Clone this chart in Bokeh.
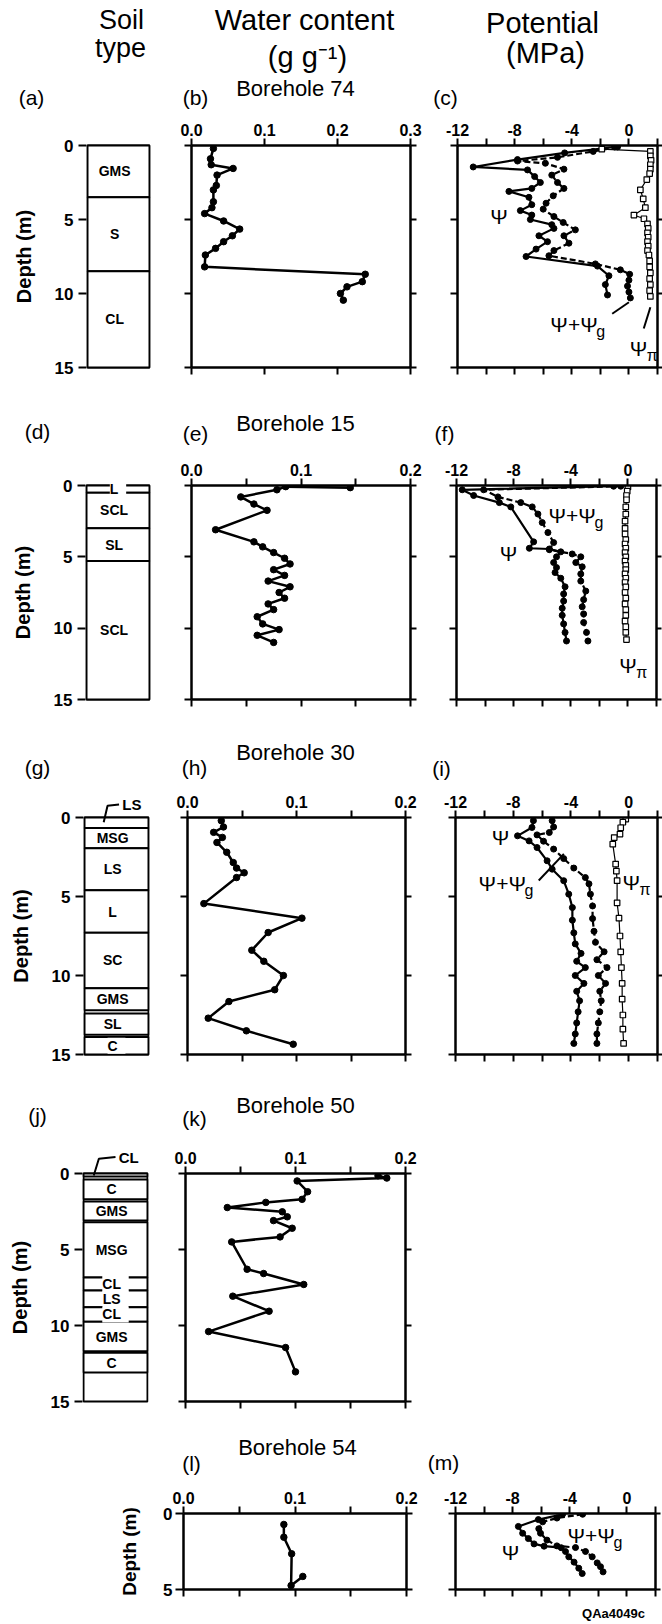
from bokeh.plotting import figure
from bokeh.models import (Range1d, LinearAxis, FixedTicker, Label, LabelSet,
                          ColumnDataSource, NumeralTickFormatter, CustomLabelingPolicy)
from bokeh.layouts import row, column
from bokeh.embed import file_html
from bokeh.resources import INLINE
from bokeh.core.properties import value

FONT = "Liberation Sans"

# ====================== DATA ======================
# ---- Borehole 74 ----
soil74_top = [0.0, 3.5, 8.5]
soil74_bot = [3.5, 8.5, 15.0]
soil74_name = ["GMS", "S", "CL"]
wc74_depth = [0.2, 0.9, 1.3, 1.55, 2.0, 2.7, 3.0, 3.8, 4.2, 4.6, 5.1, 5.65, 6.1, 6.5, 6.95, 7.4, 8.2, 8.7, 9.2, 9.55, 10.0, 10.45]
wc74_value = [0.030, 0.026, 0.027, 0.057, 0.035, 0.034, 0.030, 0.030, 0.028, 0.018, 0.044, 0.066, 0.056, 0.044, 0.033, 0.019, 0.018, 0.238, 0.234, 0.213, 0.204, 0.208]
psi74_depth = [0.1, 0.5, 0.95, 1.45, 1.65, 2.1, 2.5, 2.9, 3.1, 3.5, 4.0, 4.4, 4.7, 5.0, 5.35, 5.6, 6.1, 6.5, 7.0, 7.5, 8.15, 8.8, 9.4, 10.1]
psi74_value = [-1.0, -4.5, -7.8, -10.9, -7.1, -6.6, -6.2, -6.8, -8.4, -7.0, -6.8, -7.6, -6.8, -6.9, -5.4, -5.25, -6.3, -5.7, -6.5, -7.2, -2.2, -1.4, -1.65, -1.5]
psig74_depth = [0.1, 0.4, 0.8, 1.05, 1.2, 1.6, 2.0, 2.5, 2.9, 3.4, 3.9, 4.3, 4.8, 5.2, 5.7, 6.1, 6.6, 7.1, 7.45, 8.0, 8.4, 8.7, 9.1, 9.5, 9.9, 10.3]
psig74_value = [-0.8, -2.5, -5.0, -7.8, -5.85, -4.55, -5.4, -5.0, -4.55, -5.3, -5.8, -6.0, -5.25, -4.6, -3.75, -4.55, -4.2, -5.25, -5.6, -2.35, -0.6, 0.05, 0.0, -0.1, 0.0, 0.1]
psipi74_depth = [0.25, 0.4, 0.7, 1.0, 1.3, 1.6, 1.9, 2.3, 3.0, 3.6, 4.2, 4.7, 4.95, 5.3, 5.6, 5.9, 6.2, 6.5, 6.8, 7.1, 7.4, 7.8, 8.2, 8.6, 9.0, 9.4, 9.8, 10.2]
psipi74_value = [-1.9, 1.5, 1.5, 1.55, 1.5, 1.5, 1.45, 1.25, 0.8, 1.0, 1.15, 0.35, 1.05, 1.3, 1.35, 1.3, 1.35, 1.3, 1.35, 1.3, 1.4, 1.45, 1.45, 1.5, 1.45, 1.5, 1.45, 1.5]

# ---- Borehole 15 ----
soil15_top = [0.0, 0.5, 3.0, 5.3]
soil15_bot = [0.5, 3.0, 5.3, 15.0]
soil15_name = ["L", "SCL", "SL", "SCL"]
wc15_depth = [0.15, 0.08, 0.3, 0.8, 1.3, 1.74, 3.1, 3.95, 4.3, 4.7, 5.1, 5.5, 5.9, 6.3, 6.7, 7.1, 7.5, 7.9, 8.3, 8.7, 9.2, 9.7, 10.1, 10.5, 11.0]
wc15_value = [0.145, 0.086, 0.078, 0.045, 0.057, 0.069, 0.022, 0.057, 0.065, 0.075, 0.085, 0.090, 0.075, 0.085, 0.070, 0.090, 0.080, 0.085, 0.070, 0.075, 0.060, 0.065, 0.080, 0.060, 0.075]
psi15_depth = [0.05, 0.3, 0.7, 1.2, 1.5, 3.95, 4.4, 4.45, 4.65, 5.0, 5.4, 5.75, 6.1, 6.5, 7.1, 7.6, 8.1, 8.6, 9.1, 9.7, 10.3, 10.9]
psi15_value = [-1.0, -11.6, -10.8, -9.0, -8.2, -6.6, -6.9, -5.5, -4.7, -5.0, -5.2, -5.0, -5.1, -4.7, -4.4, -4.5, -4.5, -4.6, -4.6, -4.5, -4.4, -4.3]
psig15_depth = [0.05, 0.3, 0.8, 1.2, 1.5, 2.0, 2.6, 3.3, 4.0, 4.5, 4.8, 5.0, 5.4, 5.7, 6.2, 6.7, 7.4, 8.0, 8.5, 9.0, 9.6, 10.3, 10.9]
psig15_value = [-0.5, -10.1, -9.1, -7.5, -6.7, -6.3, -6.0, -5.6, -5.2, -5.5, -3.9, -3.3, -3.65, -3.2, -3.3, -3.3, -2.95, -3.1, -3.2, -3.1, -3.1, -2.9, -2.8]
psipi15_depth = [0.1, 0.4, 0.7, 1.0, 1.5, 2.0, 2.5, 3.0, 3.4, 3.8, 4.1, 4.4, 4.7, 5.0, 5.3, 5.6, 5.9, 6.2, 6.5, 6.8, 7.1, 7.5, 7.9, 8.3, 8.7, 9.1, 9.5, 9.9, 10.3, 10.8]
psipi15_value = [0.0, -0.05, -0.1, -0.1, -0.15, -0.15, -0.2, -0.2, -0.2, -0.15, -0.2, -0.15, -0.2, -0.15, -0.2, -0.15, -0.15, -0.2, -0.15, -0.2, -0.15, -0.2, -0.15, -0.2, -0.15, -0.15, -0.2, -0.15, -0.15, -0.1]

# ---- Borehole 30 ----
soil30_top = [0.0, 0.67, 1.94, 4.6, 7.3, 10.8, 12.4, 13.9]
soil30_bot = [0.67, 1.94, 4.6, 7.3, 10.8, 12.2, 13.75, 15.0]
soil30_name = ["LS", "MSG", "LS", "L", "SC", "GMS", "SL", "C"]
wc30_depth = [0.2, 0.6, 0.94, 1.26, 1.58, 2.2, 2.85, 3.2, 3.5, 3.8, 5.45, 6.37, 7.28, 8.4, 9.1, 10.0, 10.9, 11.65, 12.7, 13.5, 14.35]
wc30_value = [0.031, 0.033, 0.024, 0.032, 0.027, 0.036, 0.042, 0.045, 0.052, 0.045, 0.015, 0.105, 0.074, 0.059, 0.070, 0.088, 0.080, 0.038, 0.019, 0.054, 0.097]
psi30_depth = [0.2, 0.63, 1.16, 1.48, 1.9, 2.74, 3.27, 4.0, 4.85, 5.7, 6.5, 7.3, 8.0, 8.6, 9.1, 9.5, 10.0, 10.5, 11.0, 11.6, 12.3, 13.0, 13.7, 14.3]
psi30_value = [-6.6, -6.7, -7.7, -6.9, -6.35, -5.65, -5.3, -4.5, -4.15, -3.9, -3.9, -3.8, -3.7, -3.3, -3.6, -3.0, -3.7, -3.1, -3.6, -3.4, -3.5, -3.6, -3.7, -3.8]
psig30_depth = [0.2, 0.6, 0.95, 1.1, 1.5, 2.0, 2.6, 3.2, 3.8, 4.2, 4.85, 5.6, 6.4, 7.2, 7.9, 8.5, 9.0, 9.5, 10.0, 10.5, 11.0, 11.6, 12.3, 13.0, 13.7, 14.3]
psig30_value = [-5.3, -5.2, -5.5, -6.35, -5.9, -5.2, -4.5, -3.8, -3.0, -2.75, -2.65, -2.5, -2.5, -2.4, -2.3, -1.7, -2.2, -1.5, -2.1, -1.6, -2.0, -1.9, -2.0, -2.1, -2.2, -2.2]
psipi30_depth = [0.1, 0.3, 0.65, 1.05, 1.27, 1.69, 2.95, 3.4, 4.0, 5.4, 6.37, 7.5, 8.5, 9.5, 10.5, 11.5, 12.5, 13.4, 14.3]
psipi30_value = [-0.2, -0.4, -0.55, -0.6, -1.0, -1.1, -0.9, -0.85, -0.8, -0.8, -0.67, -0.6, -0.55, -0.5, -0.45, -0.45, -0.4, -0.4, -0.35]

# ---- Borehole 50 ----
soil50_top = [0.0, 0.4, 1.85, 3.2, 6.85, 7.7, 8.8, 9.75, 11.8]
soil50_bot = [0.2, 1.7, 3.1, 6.85, 7.7, 8.8, 9.75, 11.7, 13.1]
soil50_name = ["CL", "C", "GMS", "MSG", "CL", "LS", "CL", "GMS", "C"]
wc50_depth = [0.15, 0.3, 0.49, 1.2, 1.7, 1.9, 2.24, 2.52, 2.85, 3.1, 3.6, 4.17, 4.5, 6.3, 6.58, 7.3, 8.07, 9.06, 10.4, 11.45, 13.05]
wc50_value = [0.175, 0.183, 0.1015, 0.111, 0.106, 0.073, 0.038, 0.088, 0.0925, 0.080, 0.097, 0.086, 0.042, 0.056, 0.071, 0.1075, 0.043, 0.076, 0.021, 0.091, 0.100]

# ---- Borehole 54 ----
wc54_depth = [0.72, 1.56, 2.65, 4.74, 4.14]
wc54_value = [0.090, 0.090, 0.097, 0.0965, 0.107]
psi54_depth = [0.05, 0.4, 0.85, 1.3, 1.65, 2.0, 2.15, 2.25, 2.5, 2.85, 3.2, 3.6, 3.95]
psi54_value = [-4.5, -6.2, -7.6, -7.3, -6.9, -6.5, -5.8, -4.6, -4.3, -4.07, -3.7, -3.37, -3.13]
psig54_depth = [0.05, 0.3, 0.55, 1.0, 1.3, 1.75, 2.13, 2.24, 2.5, 2.85, 3.25, 3.5, 3.84]
psig54_value = [-3.1, -4.9, -5.9, -6.17, -6.05, -5.6, -4.9, -3.6, -2.9, -2.43, -2.08, -1.85, -1.67]

# axis ticks
wc_major_03 = [0.0, 0.1, 0.2, 0.3]
wc_major = [0.0, 0.1, 0.2]
wc_minor = [0.05, 0.15]
pot_major = [-12, -8, -4, 0]
pot_minor = [-10, -6, -2, 2]
depth_ticks = [0, 5, 10, 15]
depth_ticks_5 = [0, 5]

# ====================== HELPERS ======================
HIDE = "for (const i of Array.from(indices)) { indices.unset(i) }"
TICK_PX = 16


def new_panel(left, top, w, h, fl, fr, ft, fb, xr, yr):
    p = figure(width=w, height=h, x_range=Range1d(*xr), y_range=Range1d(*yr),
               x_axis_location=None, y_axis_location=None,
               output_backend="svg", toolbar_location=None, frame_align=False,
               min_border_left=int(round(fl - left)), min_border_right=int(round(left + w - fr)),
               min_border_top=int(round(ft - top)), min_border_bottom=int(round(top + h - fb)))
    p.outline_line_color = None
    p.grid.visible = False
    p.background_fill_color = "white"
    p.border_fill_color = "white"
    return dict(p=p, fl=fl, fr=fr, ft=ft, fb=fb, xr=xr, yr=yr)


def text_panel(top, h, w=662):
    return new_panel(0, top, w, h, 0, w, top, top + h, (0.0, float(w)), (float(h), 0.0))


def add_axis(P, side, ticks, minor=(), labels=False, fmt="0.0", tick_out=7, size=TICK_PX,
             axis_label=None, label_standoff=5):
    ax = LinearAxis(ticker=FixedTicker(ticks=list(ticks), minor_ticks=list(minor)))
    ax.axis_line_width = 2.5
    ax.axis_line_color = "black"
    ax.major_tick_line_width = 2
    ax.minor_tick_line_width = 2
    ax.major_tick_out = tick_out
    ax.major_tick_in = 0
    ax.minor_tick_out = tick_out
    ax.minor_tick_in = 0
    if labels:
        ax.formatter = NumeralTickFormatter(format=fmt)
        ax.major_label_text_font = FONT
        ax.major_label_text_font_style = "bold"
        ax.major_label_text_font_size = f"{size}px"
        ax.major_label_text_color = "black"
        ax.major_label_standoff = 3
    else:
        ax.major_label_text_font_size = "0px"
        ax.major_label_standoff = 0
        ax.major_label_policy = CustomLabelingPolicy(code=HIDE)
    if axis_label:
        ax.axis_label = axis_label
        ax.axis_label_text_font = FONT
        ax.axis_label_text_font_style = "bold"
        ax.axis_label_text_font_size = "19px"
        ax.axis_label_text_color = "black"
        ax.axis_label_standoff = label_standoff
    P["p"].add_layout(ax, side)
    return ax


def to_data(P, px, py):
    x0, x1 = P["xr"]
    y0, y1 = P["yr"]
    x = x0 + (px - P["fl"]) / (P["fr"] - P["fl"]) * (x1 - x0)
    y = y0 + (P["fb"] - py) / (P["fb"] - P["ft"]) * (y1 - y0)
    return x, y


def lab(P, x, y, text, size, style="normal", align="center", baseline="middle",
        angle=0.0, xo=0, yo=0):
    P["p"].add_layout(Label(x=x, y=y, text=text, text_font=FONT,
                            text_font_size=f"{size}px", text_font_style=style,
                            text_align=align, text_baseline=baseline, angle=angle,
                            x_offset=xo, y_offset=yo, text_color="black"))


def plab(P, px, py, text, size, style="normal", align="center", baseline="middle", angle=0.0):
    x, y = to_data(P, px, py)
    lab(P, x, y, text, size, style, align, baseline, angle)


def psi_label(P, x, y, main, sub, size=20, sub_dx=16):
    lab(P, x, y, main, size, align="left")
    lab(P, x, y, sub, int(size * 0.8), align="left", xo=sub_dx, yo=-7)


SOIL_M = 26  # px of frame margin above depth 0 and below depth 15


def soil_panel(top, h, bx0, bx1, y0, y15, tops, bots, names, lead=None):
    ppm = (y15 - y0) / 15.0
    bw = float(bx1 - bx0)
    fl, fr = bx0 - 1, bx1 + 1
    ft, fb = y0 - SOIL_M, y15 + SOIL_M
    xr = (-1.0 / bw, 1.0 + 1.0 / bw)
    yr = (15.0 + SOIL_M / ppm, -SOIL_M / ppm)
    P = new_panel(0, top, 170, h, fl, fr, ft, fb, xr, yr)
    p = P["p"]
    ax = LinearAxis(ticker=FixedTicker(ticks=depth_ticks))
    ax.axis_line_color = None
    ax.major_tick_out = 8
    ax.major_tick_in = 0
    ax.major_tick_line_width = 2
    ax.minor_tick_line_color = None
    ax.major_label_text_font = FONT
    ax.major_label_text_font_style = "bold"
    ax.major_label_text_font_size = "17px"
    ax.major_label_text_color = "black"
    ax.major_label_standoff = 5
    ax.axis_label = "Depth (m)"
    ax.axis_label_text_font = FONT
    ax.axis_label_text_font_style = "bold"
    ax.axis_label_text_font_size = "20px"
    ax.axis_label_text_color = "black"
    ax.axis_label_standoff = 17
    p.add_layout(ax, "left")
    p.quad(left=[0], right=[1], top=[0], bottom=[15], fill_color="white",
           line_color="black", line_width=2)
    n = len(tops)
    p.quad(left=[0] * n, right=[1] * n, top=tops, bottom=bots, fill_color="white",
           line_color="black", line_width=2)
    xs, ys, ts = [], [], []
    for i in range(n):
        if lead is not None and i == lead[0]:
            continue
        xs.append(0.5)
        ys.append((tops[i] + bots[i]) / 2.0)
        ts.append(" " + names[i] + " ")
    src = ColumnDataSource(dict(x=xs, y=ys, t=ts))
    p.add_layout(LabelSet(x="x", y="y", text="t", source=src, text_align="center",
                          text_baseline="middle", text_font=value(FONT),
                          text_font_style="bold", text_font_size="14px",
                          background_fill_color="white", text_color="black"))
    if lead is not None:
        i, lx, ly = lead
        p.line(x=lx, y=ly, line_color="black", line_width=2)
        lab(P, lx[-1] + 0.05, ly[-1], names[i], 15, style="bold", align="left")
    return P


def wc_panel(left, top, w, h, fl, fr, ft, fb, xmax, dmax, depth, val,
             major, minor, yticks, left_labels=False):
    P = new_panel(left, top, w, h, fl, fr, ft, fb, (0.0, xmax), (dmax, 0.0))
    add_axis(P, "above", major, minor, labels=True, fmt="0.0")
    add_axis(P, "below", major, minor)
    if left_labels:
        add_axis(P, "left", yticks, (), labels=True, fmt="0", tick_out=8, size=17,
                 axis_label="Depth (m)", label_standoff=20)
    else:
        add_axis(P, "left", yticks, (), tick_out=7)
    add_axis(P, "right", yticks, (), tick_out=6)
    p = P["p"]
    p.line(x=val, y=depth, line_color="black", line_width=2.5)
    p.scatter(x=val, y=depth, size=6.5, color="black")
    return P


def pot_panel(top, h, fl, fr, ft, fb, dmax, yticks, series):
    P = new_panel(425, top, 237, h, fl, fr, ft, fb, (-12.0, 2.0), (dmax, 0.0))
    add_axis(P, "above", pot_major, pot_minor, labels=True, fmt="0")
    add_axis(P, "below", pot_major, pot_minor)
    add_axis(P, "left", yticks, (), tick_out=7)
    add_axis(P, "right", yticks, (), tick_out=5)
    p = P["p"]
    for kind, d, v in series:
        if kind == "psi":
            p.line(x=v, y=d, line_color="black", line_width=2.2)
            p.scatter(x=v, y=d, size=6, color="black")
        elif kind == "psig":
            p.line(x=v, y=d, line_color="black", line_width=2.2, line_dash="6 3")
            p.scatter(x=v, y=d, size=6, color="black")
        else:
            p.line(x=v, y=d, line_color="black", line_width=1.2)
            p.scatter(x=v, y=d, marker="square", size=5.5, fill_color="white",
                      line_color="black", line_width=1.2)
    return P

# ====================== BAND 1 : Borehole 74 ======================
t1 = text_panel(0, 112)
R1T, R1H = 112, 288
a = soil_panel(R1T, R1H, 87, 149, 145, 367, soil74_top, soil74_bot, soil74_name)
b = wc_panel(170, R1T, 255, R1H, 191, 410, 145, 367, 0.3, 15.0, wc74_depth, wc74_value,
             wc_major_03, [], depth_ticks)
c = pot_panel(R1T, R1H, 457, 657, 145, 367, 15.0, depth_ticks,
              [("psi", psi74_depth, psi74_value), ("psig", psig74_depth, psig74_value),
               ("pi", psipi74_depth, psipi74_value)])
plab(t1, 121, 19, "Soil", 27)
plab(t1, 120, 47, "type", 27)
plab(t1, 31, 97, "(a)", 21)
plab(t1, 304, 19, "Water content", 29)
plab(t1, 307, 56, "(g g\u207b\u00b9)", 29)
plab(t1, 195, 97, "(b)", 21)
plab(t1, 295, 88, "Borehole 74", 22)
plab(t1, 542, 22, "Potential", 29)
plab(t1, 545, 52, "(MPa)", 29)
plab(t1, 445, 97, "(c)", 21)
lab(c, -9.1, 4.8, "\u03a8", 21)
psi_label(c, -5.5, 12.1, "\u03a8+\u03a8", "g", size=21, sub_dx=46)
c["p"].line(x=[-1.17, 0.0], y=[11.37, 10.59], line_color="black", line_width=2)
psi_label(c, 0.05, 13.7, "\u03a8", "\u03c0", size=21, sub_dx=17)
c["p"].line(x=[1.04, 1.5], y=[12.36, 10.93], line_color="black", line_width=2)

# ====================== BAND 2 : Borehole 15 ======================
t2 = text_panel(400, 48)
R2T, R2H = 448, 287
d_ = soil_panel(R2T, R2H, 86, 149, 485, 699, soil15_top, soil15_bot, soil15_name)
e = wc_panel(170, R2T, 255, R2H, 191, 410, 485, 699, 0.2, 15.0, wc15_depth, wc15_value,
             wc_major, wc_minor, depth_ticks)
f = pot_panel(R2T, R2H, 456, 656, 485, 699, 15.0, depth_ticks,
              [("psi", psi15_depth, psi15_value), ("psig", psig15_depth, psig15_value),
               ("pi", psipi15_depth, psipi15_value)])
plab(t2, 37, 431, "(d)", 21)
plab(t2, 195, 433, "(e)", 21)
plab(t2, 295, 423, "Borehole 15", 22)
plab(t2, 444, 433, "(f)", 21)
psi_label(f, -5.56, 2.1, "\u03a8+\u03a8", "g", size=21, sub_dx=46)
lab(f, -8.36, 4.77, "\u03a8", 21)
psi_label(f, -0.6, 12.6, "\u03a8", "\u03c0", size=21, sub_dx=17)

# ====================== BAND 3 : Borehole 30 ======================
t3 = text_panel(735, 48)
R3T, R3H = 783, 302
g = soil_panel(R3T, R3H, 84, 148, 817, 1054, soil30_top, soil30_bot, soil30_name,
               lead=(0, [0.30, 0.36, 0.54], [0.30, -0.75, -0.82]))
h_ = wc_panel(170, R3T, 255, R3H, 187, 405, 817, 1054, 0.2, 15.0, wc30_depth, wc30_value,
              wc_major, wc_minor, depth_ticks)
i_ = pot_panel(R3T, R3H, 455, 657, 817, 1054, 15.0, depth_ticks,
               [("psi", psi30_depth, psi30_value), ("psig", psig30_depth, psig30_value),
                ("pi", psipi30_depth, psipi30_value)])
plab(t3, 37, 767, "(g)", 21)
plab(t3, 194, 767, "(h)", 21)
plab(t3, 295, 752, "Borehole 30", 22)
plab(t3, 441, 768, "(i)", 21)
lab(i_, -8.88, 1.25, "\u03a8", 21)
psi_label(i_, -10.4, 4.18, "\u03a8+\u03a8", "g", size=21, sub_dx=46)
i_["p"].line(x=[-6.23, -4.49], y=[3.99, 2.3], line_color="black", line_width=2)
psi_label(i_, -0.43, 4.1, "\u03a8", "\u03c0", size=21, sub_dx=17)

# ====================== BAND 4 : Borehole 50 ======================
t4 = text_panel(1085, 50)
R4T, R4H = 1135, 295
j = soil_panel(R4T, R4H, 83, 147, 1173, 1401, soil50_top, soil50_bot, soil50_name,
               lead=(0, [0.16, 0.24, 0.5], [0.13, -0.97, -1.08]))
k = wc_panel(170, R4T, 255, R4H, 185, 405, 1173, 1401, 0.2, 15.0, wc50_depth, wc50_value,
             wc_major, wc_minor, depth_ticks)
plab(t4, 37, 1115, "(j)", 21)
plab(t4, 194, 1118, "(k)", 21)
plab(t4, 295, 1105, "Borehole 50", 22)

# ====================== BAND 5 : Borehole 54 ======================
t5 = text_panel(1430, 47)
R5T, R5H = 1477, 123
l_ = wc_panel(0, R5T, 425, R5H, 183, 406, 1513, 1589, 0.2, 5.0, wc54_depth, wc54_value,
              wc_major, wc_minor, depth_ticks_5, left_labels=True)
m = pot_panel(R5T, R5H, 455, 655, 1513, 1589, 5.0, depth_ticks_5,
              [("psi", psi54_depth, psi54_value), ("psig", psig54_depth, psig54_value)])
plab(t5, 297, 1447, "Borehole 54", 22)
plab(t5, 191, 1463, "(l)", 21)
plab(t5, 443, 1462, "(m)", 21)
lab(m, -8.15, 2.55, "\u03a8", 21)
psi_label(m, -4.16, 1.45, "\u03a8+\u03a8", "g", size=21, sub_dx=46)
t6 = text_panel(1600, 24)
plab(t6, 613, 1613, "QAa4049c", 13, style="bold")

layout = column(
    t1["p"], row(a["p"], b["p"], c["p"]),
    t2["p"], row(d_["p"], e["p"], f["p"]),
    t3["p"], row(g["p"], h_["p"], i_["p"]),
    t4["p"], row(j["p"], k["p"]),
    t5["p"], row(l_["p"], m["p"]),
    t6["p"],
)

open("out.html", "w").write(file_html(layout, INLINE))
